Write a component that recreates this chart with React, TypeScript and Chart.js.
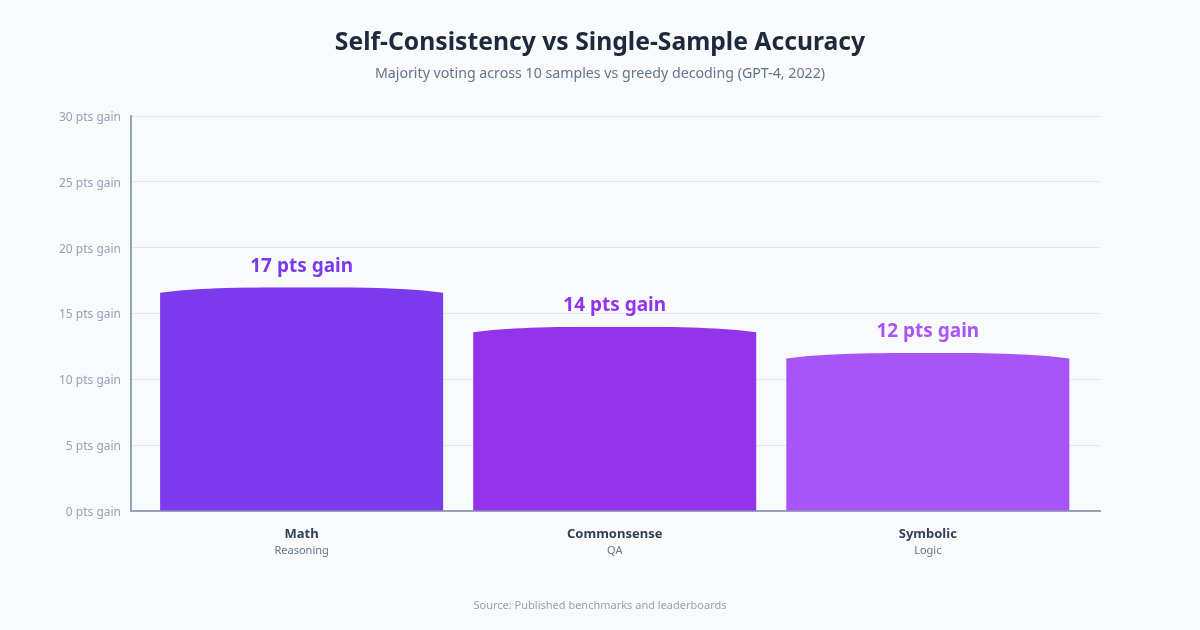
import React, { useEffect, useRef } from 'react';
import { Chart, registerables } from 'chart.js';

Chart.register(...registerables);

const categories = ['Math', 'Commonsense', 'Symbolic'];
const subLabels = ['Reasoning', 'QA', 'Logic'];
const gains = [17, 14, 12];
const barColors = ['#7c3aed', '#9333ea', '#a855f7'];
const yTicks = [0, 5, 10, 15, 20, 25, 30];

const BG = '#f8fafc';
const FONT = "'Noto Sans', 'Open Sans', sans-serif";
// categories sit a bit inside the axis line on both ends
const X_MIN = -0.545;
const X_MAX = 2.55;

// bar tops are slightly domed, values labelled above
const domeAndLabels = {
  id: 'domeAndLabels',
  afterDatasetsDraw(chart: any) {
    const ctx = chart.ctx;
    const meta = chart.getDatasetMeta(0);
    meta.data.forEach((bar: any, i: number) => {
      const { x, y, width } = bar.getProps(['x', 'y', 'width'], true);
      const left = x - width / 2;
      const right = x + width / 2;
      const dip = 5.5;
      ctx.save();
      ctx.fillStyle = BG;
      ctx.beginPath();
      ctx.moveTo(left - 1, y - 1);
      ctx.lineTo(left - 1, y + dip);
      ctx.lineTo(left, y + dip);
      ctx.bezierCurveTo(left + width * 0.12, y + 1, x - width * 0.25, y, x, y);
      ctx.bezierCurveTo(x + width * 0.25, y, right - width * 0.12, y + 1, right, y + dip);
      ctx.lineTo(right + 1, y + dip);
      ctx.lineTo(right + 1, y - 1);
      ctx.closePath();
      ctx.fill();

      ctx.fillStyle = barColors[i];
      ctx.font = `bold 19px ${FONT}`;
      ctx.textAlign = 'center';
      ctx.textBaseline = 'middle';
      ctx.fillText(`${gains[i]} pts gain`, x, y - 21);
      ctx.restore();
    });
  },
};

const headerFooter = {
  id: 'headerFooter',
  afterDraw(chart: any) {
    const ctx = chart.ctx;
    const cx = chart.width / 2;
    ctx.save();
    ctx.textAlign = 'center';
    ctx.textBaseline = 'middle';
    ctx.fillStyle = '#1e293b';
    ctx.font = `bold 24.7px ${FONT}`;
    ctx.fillText('Self-Consistency vs Single-Sample Accuracy', cx, 43);
    ctx.fillStyle = '#64748b';
    ctx.font = `14.2px ${FONT}`;
    ctx.fillText('Majority voting across 10 samples vs greedy decoding (GPT-4, 2022)', cx, 74);
    ctx.fillStyle = '#94a3b8';
    ctx.font = `11px ${FONT}`;
    ctx.fillText('Source: Published benchmarks and leaderboards', cx, 606);
    ctx.restore();
  },
};

const App = () => {
  const canvasRef = useRef<HTMLCanvasElement>(null);
  const chartRef = useRef<Chart | null>(null);

  useEffect(() => {
    document.body.style.margin = '0';
    document.body.style.background = BG;
    const el = canvasRef.current;
    if (!el) return;
    if (chartRef.current) chartRef.current.destroy();

    chartRef.current = new Chart(el, {
      type: 'bar',
      data: {
        datasets: [
          {
            data: gains.map((g, i) => ({ x: i, y: g })),
            backgroundColor: barColors,
            borderWidth: 0,
            barPercentage: 0.904,
            categoryPercentage: 1,
            xAxisID: 'x',
          },
        ],
      },
      options: {
        animation: false,
        responsive: false,
        maintainAspectRatio: false,
        layout: { padding: { top: 116, left: 0, right: 100, bottom: 59 } },
        plugins: {
          legend: { display: false },
          tooltip: { enabled: false },
        },
        scales: {
          y: {
            min: 0,
            max: 30,
            afterBuildTicks: (scale: any) => {
              scale.ticks = yTicks.map((v) => ({ value: v }));
            },
            afterFit: (scale: any) => {
              scale.width = 131;
            },
            ticks: {
              color: '#94a3b8',
              font: { family: FONT, size: 12 },
              padding: 10,
              labelOffset: 1.5,
              callback: (v: any) => `${v} pts gain`,
            },
            grid: { color: '#e2e8f0', drawTicks: false },
            border: { color: '#94a3b8', width: 2 },
          },
          x: {
            type: 'linear',
            offset: false,
            min: X_MIN,
            max: X_MAX,
            afterBuildTicks: (scale: any) => {
              scale.ticks = categories.map((_, i) => ({ value: i }));
            },
            afterFit: (scale: any) => {
              scale.height = 30;
            },
            grid: { display: false, drawTicks: false },
            border: { color: '#94a3b8', width: 2 },
            ticks: {
              color: '#334155',
              font: { family: FONT, size: 13, weight: 'bold' },
              padding: 15,
              callback: (v: any) => categories[v] ?? '',
            },
          },
          x2: {
            type: 'linear',
            position: 'bottom',
            offset: false,
            min: X_MIN,
            max: X_MAX,
            afterBuildTicks: (scale: any) => {
              scale.ticks = subLabels.map((_, i) => ({ value: i }));
            },
            afterFit: (scale: any) => {
              scale.height = 30;
            },
            grid: { display: false, drawTicks: false },
            border: { display: false },
            ticks: {
              color: '#64748b',
              font: { family: FONT, size: 11 },
              padding: 3,
              callback: (v: any) => subLabels[v] ?? '',
            },
          },
        },
      },
      plugins: [domeAndLabels, headerFooter],
    } as any);

    return () => {
      if (chartRef.current) {
        chartRef.current.destroy();
        chartRef.current = null;
      }
    };
  }, []);

  return (
    <div style={{ width: 1200, height: 630, background: BG }}>
      <canvas ref={canvasRef} width={1200} height={630} style={{ width: 1200, height: 630 }} />
    </div>
  );
};

export default App;
